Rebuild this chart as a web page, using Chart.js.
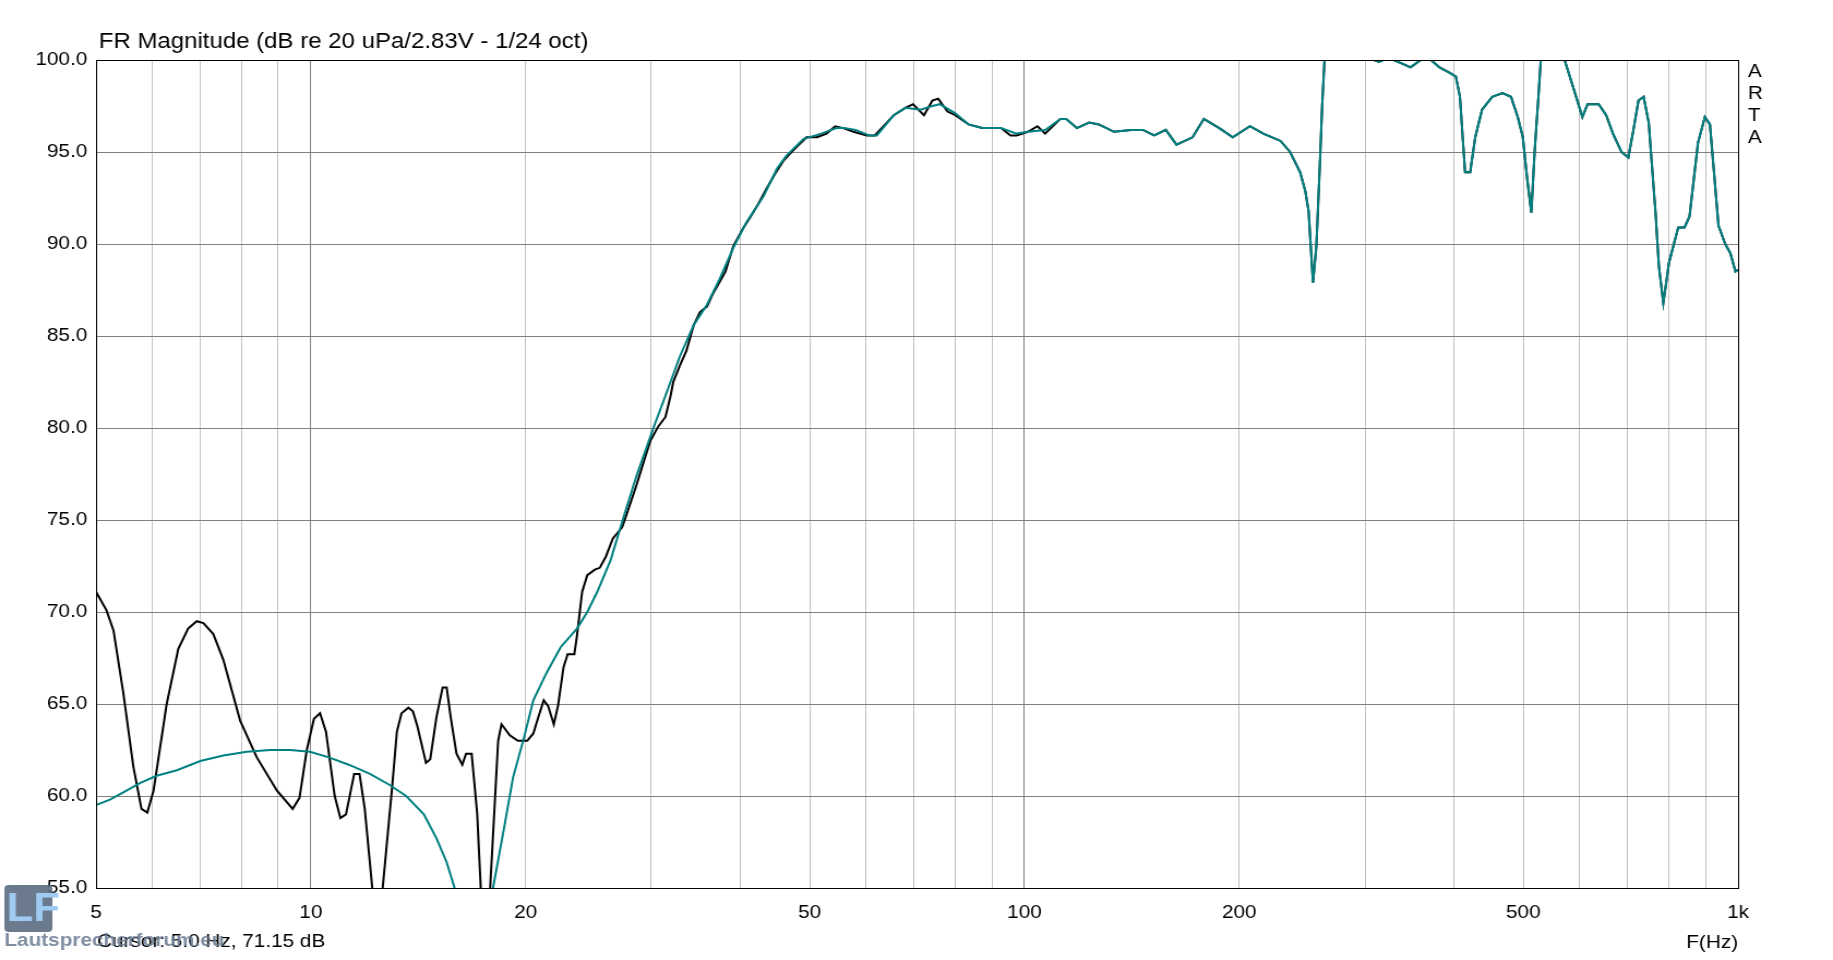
<!DOCTYPE html>
<html>
<head>
<meta charset="utf-8">
<title>FR Magnitude</title>
<script src="https://cdn.jsdelivr.net/npm/chart.js@4.4.1/dist/chart.umd.min.js"></script>
<style>
    html, body { margin: 0; padding: 0; background: #fff; overflow: hidden; }
    #wrap { position: relative; width: 1680px; height: 960px; transform: scaleX(1.091071); transform-origin: 0 0; }
</style>
</head>
<body>
<div id="wrap"><canvas id="chart"></canvas></div>
<script>
let chart = null

// measured response (black), low / mid band
const blackFreq = [5.0, 5.17, 5.29, 5.46, 5.64, 5.79, 5.90, 6.02, 6.28, 6.52, 6.73, 6.92, 7.07, 7.30, 7.54, 7.96, 8.40, 8.96, 9.43, 9.64,
    9.87, 10.1, 10.3, 10.5, 10.8, 11.0, 11.2, 11.5, 11.7, 11.9, 12.4, 13.0, 13.2, 13.4, 13.7, 13.9, 14.1, 14.5, 14.7, 15.0,
    15.3, 15.5, 15.7, 16.0, 16.3, 16.5, 16.8, 17.1, 17.55, 18.3, 18.5, 19.0, 19.5, 20.1, 20.5, 20.8, 21.2, 21.5, 21.9, 22.2,
    22.6, 22.9, 23.4, 23.6, 24.0, 24.4, 25.0, 25.4, 25.9, 26.5, 27.3, 27.7, 28.6, 29.4, 29.9, 30.7, 31.4, 31.9, 32.2, 32.9,
    33.6, 34.4, 35.1, 35.9, 36.6, 38.1, 39.1, 40.4, 41.2, 42.4, 43.5, 44.7, 45.9, 46.9, 48.0, 49.5, 51.2, 52.8, 54.3, 55.7,
    57.6, 60.1, 61.7, 65.6, 68.1, 69.8, 72.3, 74.3, 75.7, 78.0, 80.0, 83.5, 87.2, 92.7, 95.6, 97.5, 101.1, 104.3, 106.9, 112.3]
const blackDb = [71.1, 70.1, 69.0, 65.6, 61.6, 59.3, 59.1, 60.3, 65.0, 68.0, 69.1, 69.5, 69.4, 68.8, 67.4, 64.1, 62.1, 60.3, 59.3, 59.9,
    62.5, 64.2, 64.5, 63.5, 60.0, 58.8, 59.0, 61.2, 61.2, 59.3, 52.0, 60.5, 63.5, 64.5, 64.8, 64.6, 63.8, 61.8, 62.0, 64.3,
    65.9, 65.9, 64.3, 62.3, 61.7, 62.3, 62.3, 59.1, 50.0, 63.0, 63.9, 63.3, 63.0, 63.0, 63.4, 64.2, 65.2, 64.9, 63.9, 64.9,
    67.0, 67.7, 67.7, 68.7, 71.1, 72.0, 72.3, 72.4, 73.0, 74.0, 74.6, 75.3, 76.9, 78.4, 79.3, 80.1, 80.6, 81.7, 82.5, 83.4,
    84.2, 85.6, 86.3, 86.6, 87.3, 88.5, 89.9, 90.9, 91.4, 92.2, 93.0, 93.8, 94.5, 94.9, 95.3, 95.8, 95.8, 96.0, 96.4, 96.3,
    96.1, 95.9, 95.9, 97.0, 97.4, 97.6, 97.0, 97.8, 97.9, 97.2, 97.0, 96.5, 96.3, 96.3, 95.9, 95.9, 96.1, 96.4, 96.0, 96.8]

// simulated response (teal), low / mid band
const tealFreq = [5.0, 5.23, 5.46, 5.76, 6.08, 6.49, 7.0, 7.54, 8.13, 8.77, 9.35, 9.97, 10.6, 11.3, 12.1, 12.9, 13.6, 14.4, 15.0, 15.5,
    15.9, 17.0, 18.0, 18.6, 19.2, 19.9, 20.5, 21.4, 22.4, 23.6, 24.4, 25.2, 26.3, 27.4, 28.6, 30.2, 31.5, 32.9, 34.4, 35.9,
    37.4, 39.1, 40.8, 43.1, 45.0, 46.4, 49.0, 51.9, 54.5, 55.9, 58.0, 60.6, 62.1, 65.6, 68.1, 71.5, 74.3, 76.1, 80.0, 83.5,
    87.2, 92.7, 97.5, 101.1, 106.9, 112.3]
const tealDb = [59.5, 59.8, 60.2, 60.7, 61.1, 61.4, 61.9, 62.2, 62.4, 62.5, 62.5, 62.4, 62.1, 61.7, 61.2, 60.6, 60.0, 59.0, 57.7, 56.4,
    55.0, 45.0, 55.0, 58.0, 61.0, 63.2, 65.2, 66.7, 68.1, 69.1, 70.0, 71.1, 72.8, 75.1, 77.4, 80.0, 81.9, 83.9, 85.6, 86.7,
    88.1, 89.8, 91.2, 92.6, 94.1, 94.8, 95.7, 96.0, 96.3, 96.3, 96.2, 95.9, 95.9, 97.0, 97.4, 97.3, 97.5, 97.6, 97.1, 96.5,
    96.3, 96.3, 96.0, 96.1, 96.2, 96.8]

// upper band, both curves coincide
const highFreq = [114.4, 118.4, 123.2, 127.1, 133.5, 141.1, 146.5, 152.0, 157.8, 163.3, 172.0, 178.4, 187.5, 195.8, 207.0, 216.1, 228.5, 235.6, 243.4, 247.4,
    250.1, 253.7, 256.5, 259.3, 261.3, 263.3, 275, 295, 309.0, 313.9, 318.3, 323, 328.9, 338.2, 347.5, 359.1, 365, 371.3, 381.6, 394.5,
    402.3, 407.6, 414.4, 421.3, 428.2, 437.7, 452.4, 467.6, 480.6, 491.2, 499.3, 506.5, 513.2, 518.8, 524.6, 529.1, 540, 560, 571.4, 585.4,
    605.1, 615.2, 637.8, 653.4, 667.8, 686.4, 701.8, 713.4, 725.1, 737.3, 749.5, 766.2, 774.5, 785.7, 800.3, 824.4, 841.2, 854.9, 878.6, 898.3,
    913.2, 938.7, 959.4, 975.4, 991.6, 1000]
const highDb = [96.8, 96.3, 96.6, 96.5, 96.1, 96.2, 96.2, 95.9, 96.2, 95.4, 95.8, 96.8, 96.3, 95.8, 96.4, 96.0, 95.6, 95.0, 93.9, 92.9,
    91.8, 87.9, 89.9, 94.2, 97.5, 100.0, 104.0, 104.0, 100.0, 99.9, 100.0, 100.5, 100.0, 99.8, 99.6, 100.0, 100.4, 100.0, 99.6, 99.3,
    99.1, 98.0, 93.9, 93.9, 95.8, 97.3, 98.0, 98.2, 98.0, 96.9, 95.8, 93.5, 91.7, 95.1, 97.8, 100.0, 103.0, 103.0, 100.0, 98.7,
    96.9, 97.6, 97.6, 97.0, 96.0, 95.0, 94.7, 96.2, 97.8, 98.0, 96.6, 91.7, 88.8, 86.8, 89.0, 90.9, 90.9, 91.5, 95.5, 96.9,
    96.5, 91.0, 90.0, 89.5, 88.5, 88.6]

const xGridFreqs = [5, 6, 7, 8, 9, 10, 20, 30, 40, 50, 60, 70, 80, 90, 100, 200, 300, 400, 500, 600, 700, 800, 900, 1000]
const xTickFreqs = [5, 10, 20, 50, 100, 200, 500, 1000]
const xTickText = ['5', '10', '20', '50', '100', '200', '500', '1k']
const xDecades = [10, 100]
const yTicks = [55, 60, 65, 70, 75, 80, 85, 90, 95, 100]

const titleText = 'FR Magnitude (dB re 20 uPa/2.83V - 1/24 oct)'
const cursorText = 'Cursor: 5.0 Hz, 71.15 dB'
const fontFamily = '"Liberation Sans", Arial, sans-serif'

function toPoints(freqs, dbs) {
    return freqs.map((f, i) => ({ x: f, y: dbs[i] }))
}

const decorPlugin = {
    id: 'decor',
    afterDraw(c) {
        const ctx = c.ctx
        const a = c.chartArea
        ctx.save()
        // frame
        ctx.strokeStyle = '#000'
        ctx.lineWidth = 1
        ctx.strokeRect(Math.round(a.left) + 0.5, Math.round(a.top) + 0.5, Math.round(a.right - a.left), Math.round(a.bottom - a.top))

        ctx.fillStyle = '#000'
        ctx.font = '22px ' + fontFamily
        ctx.textAlign = 'left'
        ctx.textBaseline = 'alphabetic'
        ctx.fillText(titleText, 90.5, 48)

        ctx.font = '19px ' + fontFamily
        ctx.textBaseline = 'middle'
        const arta = ['A', 'R', 'T', 'A']
        arta.forEach((ch, i) => ctx.fillText(ch, a.right + 9, 72 + i * 22))

        ctx.fillText(cursorText, 89, 942)
        ctx.textAlign = 'right'
        ctx.fillText('F(Hz)', a.right, 943)

        // forum watermark
        ctx.textAlign = 'left'
        ctx.fillStyle = 'rgba(92,108,130,0.9)'
        ctx.beginPath()
        ctx.roundRect(4, 885, 44, 47, 4)
        ctx.fill()
        ctx.font = 'bold 40px ' + fontFamily
        ctx.fillStyle = '#9fcbf3'
        ctx.fillText('LF', 6, 910)
        ctx.font = 'bold 19px ' + fontFamily
        ctx.fillStyle = 'rgba(105,122,145,0.85)'
        ctx.fillText('Lautsprecherforum.eu', 4, 941)
        ctx.restore()
    }
}

function initChart() {
    const ctx = document.getElementById('chart').getContext('2d');
    chart = new Chart(ctx, {
        type: 'line',
        data: {
            datasets: [{
                label: 'Simulation',
                data: toPoints(tealFreq.concat(highFreq), tealDb.concat(highDb)),
                borderColor: '#008080',
                borderWidth: 2,
                pointRadius: 0,
                tension: 0,
                clip: 0
            }, {
                label: 'Measurement',
                data: toPoints(blackFreq.concat(highFreq), blackDb.concat(highDb)),
                borderColor: '#000000',
                borderWidth: 2,
                pointRadius: 0,
                tension: 0,
                clip: 0
            }]
        },
        options: {
            responsive: true,
            maintainAspectRatio: false,
            animation: false,
            devicePixelRatio: 1,
            layout: { padding: { top: 60, right: 87, left: 0, bottom: 0 } },
            plugins: {
                legend: { display: false },
                title: { display: false },
                tooltip: { enabled: false }
            },
            scales: {
                x: {
                    type: 'logarithmic',
                    min: 5,
                    max: 1000,
                    afterBuildTicks: s => { s.ticks = xGridFreqs.map(v => ({ value: v })) },
                    afterFit: s => { s.height = 72 },
                    ticks: {
                        autoSkip: false,
                        maxRotation: 0,
                        minRotation: 0,
                        padding: 13,
                        color: '#000',
                        font: { family: fontFamily, size: 19 },
                        callback: v => {
                            const i = xTickFreqs.indexOf(v)
                            return i < 0 ? '' : xTickText[i]
                        }
                    },
                    grid: {
                        drawTicks: false,
                        color: c => (c.tick && xDecades.includes(c.tick.value)) ? '#808080' : '#c0c0c0'
                    },
                    border: { color: '#000' }
                },
                y: {
                    min: 55,
                    max: 100,
                    afterBuildTicks: s => { s.ticks = yTicks.map(v => ({ value: v })) },
                    afterFit: s => { s.width = 88 },
                    ticks: {
                        padding: 8,
                        color: '#000',
                        font: { family: fontFamily, size: 19 },
                        callback: v => Number(v).toFixed(1)
                    },
                    grid: { drawTicks: false, color: '#808080' },
                    border: { color: '#000' }
                }
            }
        },
        plugins: [decorPlugin]
    }
    );
}

initChart()
</script>
</body>
</html>
